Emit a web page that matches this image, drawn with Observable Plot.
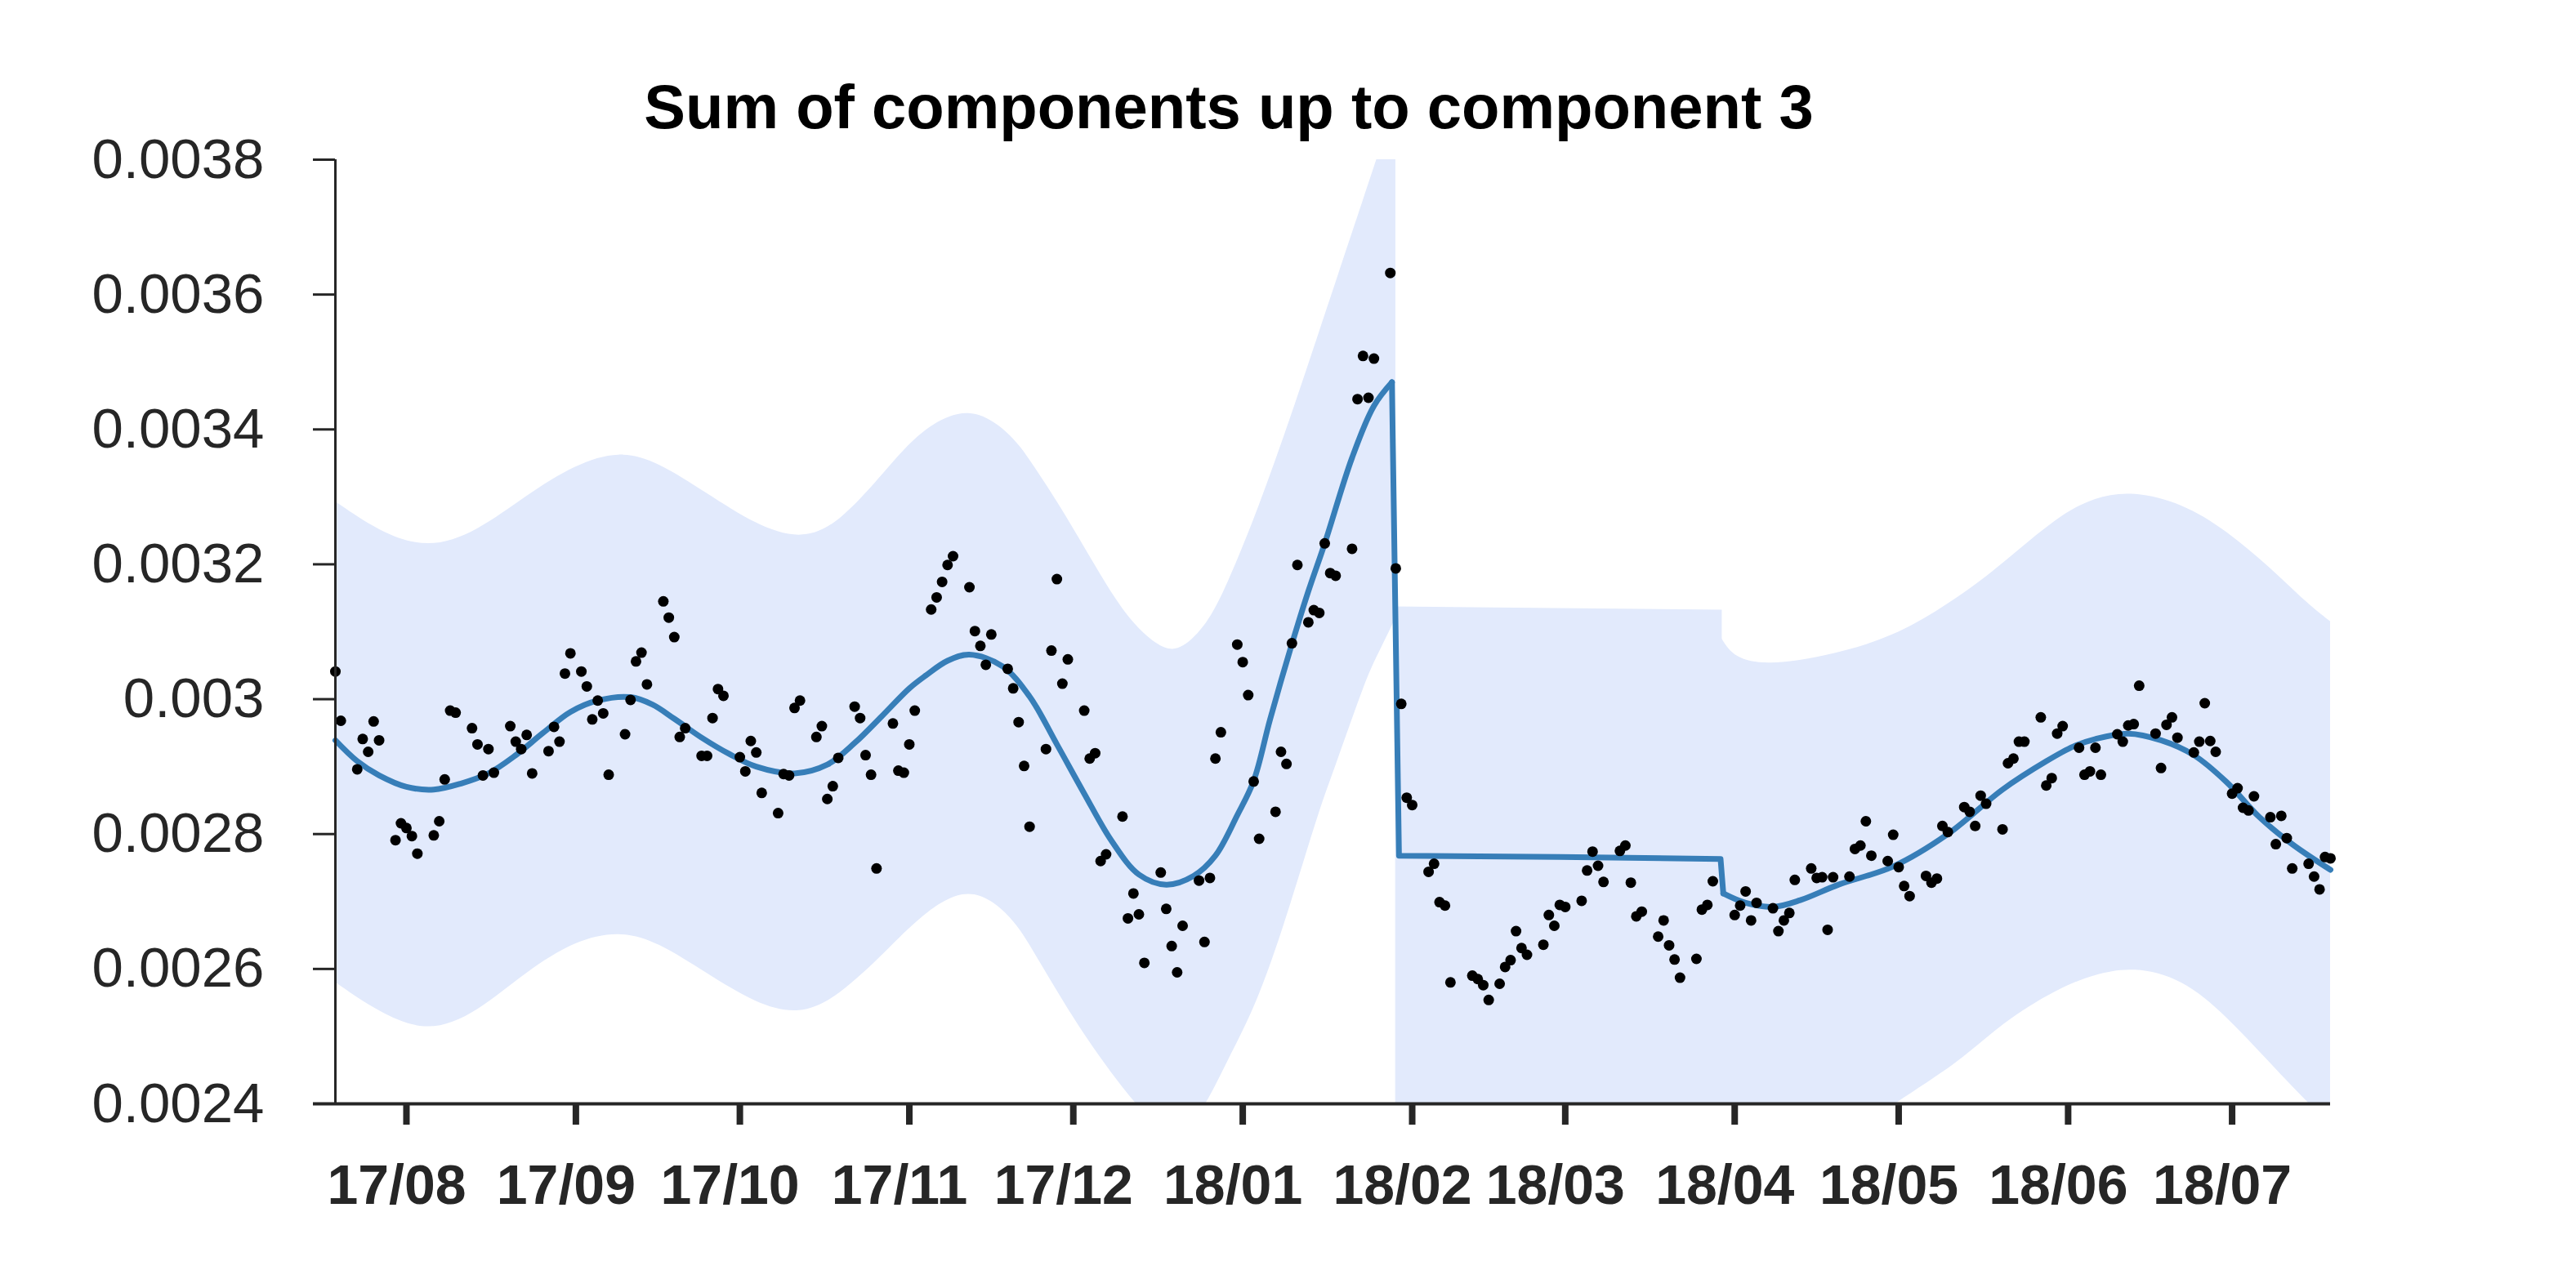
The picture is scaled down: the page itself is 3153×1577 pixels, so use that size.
<!DOCTYPE html>
<html>
<head>
<meta charset="utf-8">
<script src="https://cdn.jsdelivr.net/npm/d3@7"></script>
<script src="https://cdn.jsdelivr.net/npm/@observablehq/plot@0.6"></script>
<style>
html, body { margin: 0; padding: 0; background: #fff; overflow: hidden; }
#title { height: 175px; box-sizing: border-box; padding-top: 93px; width: 3008px; text-align: center;
  font: bold 76px/76px "Liberation Sans", Arial, sans-serif; color: #000; white-space: nowrap; }
</style>
</head>
<body>
<div id="title">Sum of components up to component 3</div>
<div id="chart"></div>
<script>
// ---- observations (black dots) ----
const pointDates = [
"2017-07-19","2017-07-20","2017-07-23","2017-07-24","2017-07-25","2017-07-26","2017-07-27","2017-07-30","2017-07-31",
"2017-08-01","2017-08-02","2017-08-03","2017-08-06","2017-08-07","2017-08-08","2017-08-09","2017-08-10","2017-08-13","2017-08-14","2017-08-15","2017-08-16","2017-08-17","2017-08-20","2017-08-21","2017-08-22","2017-08-23","2017-08-24","2017-08-27","2017-08-28","2017-08-29","2017-08-30","2017-08-31",
"2017-09-02","2017-09-03","2017-09-04","2017-09-05","2017-09-06","2017-09-07","2017-09-10","2017-09-11","2017-09-12","2017-09-13","2017-09-14","2017-09-17","2017-09-18","2017-09-19","2017-09-20","2017-09-21","2017-09-24","2017-09-25","2017-09-26","2017-09-27","2017-09-28",
"2017-10-01","2017-10-02","2017-10-03","2017-10-04","2017-10-05","2017-10-08","2017-10-09","2017-10-10","2017-10-11","2017-10-12","2017-10-15","2017-10-16","2017-10-17","2017-10-18","2017-10-19","2017-10-22","2017-10-23","2017-10-24","2017-10-25","2017-10-26","2017-10-29","2017-10-30","2017-10-31",
"2017-11-01","2017-11-02","2017-11-05","2017-11-06","2017-11-07","2017-11-08","2017-11-09","2017-11-12","2017-11-13","2017-11-14","2017-11-15","2017-11-16","2017-11-19","2017-11-20","2017-11-21","2017-11-22","2017-11-23","2017-11-26","2017-11-27","2017-11-28","2017-11-29","2017-11-30",
"2017-12-03","2017-12-04","2017-12-05","2017-12-06","2017-12-07","2017-12-10","2017-12-11","2017-12-12","2017-12-13","2017-12-14","2017-12-17","2017-12-18","2017-12-19","2017-12-20","2017-12-21","2017-12-24","2017-12-25","2017-12-26","2017-12-27","2017-12-28","2017-12-31",
"2018-01-01","2018-01-02","2018-01-03","2018-01-04","2018-01-07","2018-01-08","2018-01-09","2018-01-10","2018-01-11","2018-01-13","2018-01-14","2018-01-15","2018-01-16","2018-01-17","2018-01-18","2018-01-21","2018-01-22","2018-01-23","2018-01-24","2018-01-25","2018-01-28","2018-01-29","2018-01-30","2018-01-31",
"2018-02-01","2018-02-04","2018-02-05","2018-02-06","2018-02-07","2018-02-08","2018-02-12","2018-02-13","2018-02-14","2018-02-15","2018-02-17","2018-02-18","2018-02-19","2018-02-20","2018-02-21","2018-02-22","2018-02-25","2018-02-26","2018-02-27","2018-02-28",
"2018-03-01","2018-03-04","2018-03-05","2018-03-06","2018-03-07","2018-03-08","2018-03-11","2018-03-12","2018-03-13","2018-03-14","2018-03-15","2018-03-18","2018-03-19","2018-03-20","2018-03-21","2018-03-22","2018-03-25","2018-03-26","2018-03-27","2018-03-28",
"2018-04-01","2018-04-02","2018-04-03","2018-04-04","2018-04-05","2018-04-08","2018-04-09","2018-04-10","2018-04-11","2018-04-12","2018-04-15","2018-04-16","2018-04-17","2018-04-18","2018-04-19","2018-04-22","2018-04-23","2018-04-24","2018-04-25","2018-04-26","2018-04-29","2018-04-30",
"2018-05-01","2018-05-02","2018-05-03","2018-05-06","2018-05-07","2018-05-08","2018-05-09","2018-05-10","2018-05-13","2018-05-14","2018-05-15","2018-05-16","2018-05-17","2018-05-20","2018-05-21","2018-05-22","2018-05-23","2018-05-24","2018-05-27","2018-05-28","2018-05-29","2018-05-30","2018-05-31",
"2018-06-03","2018-06-04","2018-06-05","2018-06-06","2018-06-07","2018-06-10","2018-06-11","2018-06-12","2018-06-13","2018-06-14","2018-06-17","2018-06-18","2018-06-19","2018-06-20","2018-06-21","2018-06-24","2018-06-25","2018-06-26","2018-06-27","2018-06-28",
"2018-07-01","2018-07-02","2018-07-03","2018-07-04","2018-07-05","2018-07-08","2018-07-09","2018-07-10","2018-07-11","2018-07-12","2018-07-15","2018-07-16","2018-07-17","2018-07-18","2018-07-19"
];
const pointValues = [
0.003041,0.002968,0.002896,0.002941,0.002922,0.002967,0.002939,0.002791,0.002816,
0.002809,0.002797,0.002771,0.002798,0.002819,0.002881,0.002983,0.00298,0.002957,0.002933,0.002887,0.002926,0.002891,0.00296,0.002937,0.002926,0.002947,0.00289,0.002923,0.002959,0.002937,0.003038,0.003068,
0.003041,0.003019,0.00297,0.002998,0.002979,0.002888,0.002948,0.002999,0.003056,0.003069,0.003022,0.003145,0.003121,0.003092,0.002944,0.002957,0.002916,0.002916,0.002972,0.003015,0.003005,
0.002914,0.002893,0.002938,0.002921,0.002861,0.002831,0.002889,0.002887,0.002987,0.002998,0.002944,0.00296,0.002852,0.002871,0.002913,0.002989,0.002972,0.002917,0.002888,0.002749,0.002964,0.002894,0.002891,
0.002933,0.002983,0.003133,0.003151,0.003174,0.003199,0.003212,0.003166,0.003101,0.003079,0.003051,0.003096,0.003045,0.003016,0.002966,0.002901,0.002811,0.002926,0.003072,0.003178,0.003023,0.003059,
0.002983,0.002912,0.00292,0.00276,0.00277,0.002826,0.002675,0.002712,0.002681,0.002609,0.002743,0.002689,0.002634,0.002595,0.002664,0.002731,0.00264,0.002735,0.002912,0.002951,0.003081,
0.003055,0.003006,0.002878,0.002793,0.002833,0.002922,0.002904,0.003083,0.003199,0.003114,0.003132,0.003128,0.003231,0.003187,0.003183,0.003223,0.003445,0.003509,0.003447,0.003505,0.003632,0.003194,0.002993,0.002854,
0.002843,0.002744,0.002756,0.002699,0.002694,0.00258,0.00259,0.002585,0.002576,0.002554,0.002578,0.002603,0.002613,0.002656,0.002631,0.002621,0.002636,0.00268,0.002664,0.002695,
0.002692,0.002701,0.002746,0.002774,0.002753,0.002729,0.002775,0.002783,0.002728,0.002678,0.002685,0.002648,0.002672,0.002635,0.002614,0.002587,0.002615,0.002688,0.002695,0.00273,
0.00268,0.002694,0.002715,0.002672,0.002698,0.00269,0.002656,0.002672,0.002683,0.002732,0.002749,0.002735,0.002736,0.002658,0.002736,0.002737,0.002778,0.002783,0.002819,0.002768,0.00276,0.002799,
0.002751,0.002723,0.002708,0.002738,0.002728,0.002734,0.002812,0.002803,0.00284,0.002833,0.002812,0.002857,0.002845,0.002807,0.002905,0.002912,0.002937,0.002937,0.002973,0.002872,0.002883,0.002949,0.00296,
0.002928,0.002888,0.002893,0.002928,0.002888,0.002948,0.002937,0.002961,0.002963,0.00302,0.002949,0.002898,0.002962,0.002973,0.002943,0.002921,0.002937,0.002994,0.002938,0.002922,
0.00286,0.002868,0.002839,0.002835,0.002856,0.002825,0.002785,0.002827,0.002794,0.002749,0.002756,0.002737,0.002718,0.002766,0.002764
];

// ---- fitted sum of components (blue line) ----
const fitDates = [
"2017-07-19","2017-07-23","2017-07-27","2017-08-01","2017-08-06","2017-08-11","2017-08-16","2017-08-21","2017-08-26","2017-08-31",
"2017-09-05","2017-09-11","2017-09-15","2017-09-19","2017-09-24","2017-09-29","2017-10-04","2017-10-11","2017-10-17","2017-10-22","2017-10-27",
"2017-11-01","2017-11-04","2017-11-08","2017-11-12","2017-11-18","2017-11-23","2017-11-28","2017-12-03","2017-12-08","2017-12-13","2017-12-18","2017-12-23","2017-12-27","2017-12-31",
"2018-01-03","2018-01-06","2018-01-10","2018-01-13","2018-01-16","2018-01-21","2018-01-25","2018-01-28T07:00Z","2018-01-29T14:00Z","2018-02-28","2018-03-29T10:00Z","2018-03-29T22:00Z",
"2018-04-03","2018-04-08","2018-04-13","2018-04-20","2018-04-30","2018-05-10","2018-05-20","2018-05-28","2018-06-02","2018-06-06","2018-06-12","2018-06-18","2018-06-24","2018-06-30",
"2018-07-06","2018-07-12","2018-07-19"
];
const fitValues = [
0.002939,0.002908,0.002887,0.00287,0.002866,0.002875,0.00289,0.002917,0.00295,0.002981,
0.002998,0.003003,0.002992,0.002971,0.002943,0.002919,0.0029,0.00289,0.002903,0.002935,0.002975,
0.003016,0.003035,0.003057,0.003066,0.003049,0.003004,0.002933,0.00286,0.00279,0.00274,0.002725,0.002738,0.002768,0.002828,
0.002879,0.00297,0.003082,0.00316,0.003231,0.003358,0.003435,0.00347,0.002768,0.002766,0.002763,0.002712,
0.002698,0.002692,0.002702,0.002725,0.002752,0.0028,0.002866,0.002908,0.00293,0.002941,0.002949,0.002939,0.002917,0.002877,
0.002825,0.002785,0.002747
];
// the two jumps of the fit: from the January peak down, and the small step at the end of March
const fitJumpStart = "2018-01-28T07:00Z";
const fitJumpEnd = "2018-03-29T22:00Z";

// ---- uncertainty band (light blue), three pieces ----
const bandDates = [
"2017-07-19","2017-07-27","2017-08-05","2017-08-14","2017-08-23","2017-09-01","2017-09-09","2017-09-16","2017-09-25","2017-10-04","2017-10-12","2017-10-19","2017-10-28",
"2017-11-03","2017-11-12","2017-11-20","2017-11-24","2017-11-28","2017-12-02","2017-12-06","2017-12-10","2017-12-14","2017-12-18","2017-12-21","2017-12-25T12:00Z","2017-12-29",
"2018-01-04","2018-01-10","2018-01-15","2018-01-18","2018-01-23T14:00Z","2018-01-26","2018-01-28","2018-01-29T00:00Z",
"2018-01-28T23:00Z","2018-03-29T17:00Z",
"2018-03-29T15:00Z","2018-04-01","2018-04-07","2018-04-17","2018-04-30","2018-05-12","2018-05-20","2018-05-30","2018-06-06","2018-06-13","2018-06-22","2018-06-30","2018-07-08","2018-07-15","2018-07-19"
];
const bandUpper = [
0.003293,0.003248,0.003222,0.003248,0.003302,0.003348,0.003368,0.003352,0.003305,0.003258,0.003236,0.003258,0.003341,
0.003398,0.003438,0.003392,0.003343,0.003294,0.00324,0.003184,0.003132,0.003095,0.003072,0.003074,0.00311,0.003165,
0.003284,0.003422,0.003544,0.003617,0.003753,0.003812,0.00386,0.00388,
0.003137,0.003132,
0.00309,0.00306,0.00305,0.003062,0.00309,0.00315,0.0032,0.00327,0.0033,0.003308,0.00329,0.00325,0.003195,0.00314,0.003115
];
const bandLower = [
0.00258,0.002535,0.002504,0.002535,0.002596,0.002642,0.002656,0.00264,0.002593,0.002548,0.002531,0.002558,0.002627,
0.002678,0.002727,0.002678,0.002622,0.002568,0.002515,0.002468,0.002424,0.002385,0.002356,0.00235,0.0024,0.00246,
0.002553,0.0027,0.002835,0.0029,0.00303,0.00307,0.003103,0.00312,
0.00225,0.00225,
0.0022,0.00222,0.00226,0.00232,0.0024,0.00246,0.00252,0.00257,0.002592,0.002603,0.002585,0.00253,0.00246,0.0024,0.00237
];
const bandPiece = [
"a","a","a","a","a","a","a","a","a","a","a","a","a","a","a","a","a","a","a","a","a","a","a","a","a","a","a","a","a","a","a","a","a","a",
"b","b",
"c","c","c","c","c","c","c","c","c","c","c","c","c","c","c"
];

// ---- axes ----
const xDomain = ["2017-07-19", "2018-07-19"];
const xTickDates = ["2017-08-01","2017-09-01","2017-10-01","2017-11-01","2017-12-01","2018-01-01","2018-02-01","2018-03-01","2018-04-01","2018-05-01","2018-06-01","2018-07-01"];
const xTickLabels = ["17/08","17/09","17/10","17/11","17/12","18/01","18/02","18/03","18/04","18/05","18/06","18/07"];
const yTickValues = [0.0024,0.0026,0.0028,0.003,0.0032,0.0034,0.0036,0.0038];
const yTickLabels = ["0.0024","0.0026","0.0028","0.003","0.0032","0.0034","0.0036","0.0038"];

const parse = d3.isoParse;
const points = pointDates.map((d, i) => ({date: parse(d), value: pointValues[i]}));
const fit = fitDates.map((d, i) => ({date: parse(d), value: fitValues[i]}));
const band = bandDates.map((d, i) => ({date: parse(d), lower: bandLower[i], upper: bandUpper[i], piece: bandPiece[i]}));
const xTicks = xTickDates.map(parse);
const xLabelOf = new Map(xTicks.map((d, i) => [+d, xTickLabels[i]]));
const yLabelOf = new Map(yTickValues.map((v, i) => [v, yTickLabels[i]]));
const dom = xDomain.map(parse);
const j0 = +parse(fitJumpStart), j1 = +parse(fitJumpEnd);

const lineStyle = {x: "date", y: "value", stroke: "#377eb8", strokeWidth: 7, strokeLinecap: "round", strokeLinejoin: "round"};

const chart = Plot.plot({
  width: 3153,
  height: 1402,
  marginLeft: 410,
  marginRight: 301,
  marginTop: 20,
  marginBottom: 226,
  style: {fontFamily: '"Liberation Sans", Arial, Helvetica, sans-serif', fontSize: "68px", color: "#262626", background: "transparent", overflow: "visible"},
  x: {type: "utc", domain: dom},
  y: {domain: [0.0024, 0.0038]},
  marks: [
    Plot.areaY(band, {x: "date", y1: "lower", y2: "upper", z: "piece", fill: "#e2eafc", curve: "basis", clip: true}),
    Plot.line(fit, {...lineStyle, filter: d => +d.date <= j0, curve: "catmull-rom"}),
    Plot.line(fit, {...lineStyle, filter: d => +d.date >= j0 && +d.date <= j1, curve: "linear"}),
    Plot.line(fit, {...lineStyle, filter: d => +d.date >= j1, curve: "catmull-rom"}),
    Plot.dot(points, {x: "date", y: "value", r: 6.5, fill: "#000", stroke: "none"}),
    Plot.ruleX([dom[0]], {stroke: "#262626", strokeWidth: 3}),
    Plot.ruleY([0.0024], {stroke: "#262626", strokeWidth: 4, insetLeft: -27}),
    // x tick marks
    Plot.axisX({ticks: xTicks, tickFormat: () => "", tickSize: 26, tickPadding: 0, strokeWidth: 8, label: null, color: "#262626"}),
    // x tick labels (drawn slightly left of their ticks, as in the original)
    Plot.axisX({ticks: xTicks, tickFormat: d => xLabelOf.get(+d), tickSize: 0, tickPadding: 74, strokeWidth: 0, fontWeight: "bold", fontSize: 68, dx: -12, label: null, color: "#262626"}),
    Plot.axisY({ticks: yTickValues, tickFormat: d => yLabelOf.get(d), tickSize: 27, tickPadding: 60, strokeWidth: 3, fontSize: 69, label: null, color: "#262626"})
  ]
});
document.getElementById("chart").appendChild(chart);
</script>
</body>
</html>
